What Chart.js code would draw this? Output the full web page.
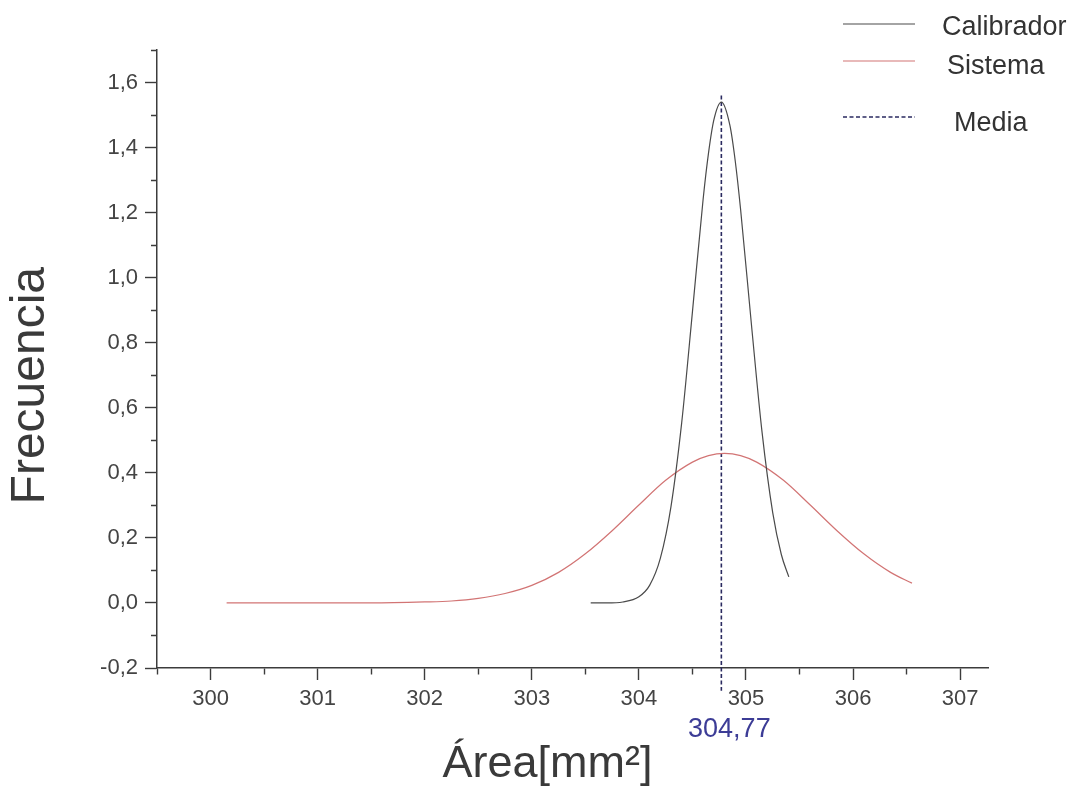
<!DOCTYPE html>
<html>
<head>
<meta charset="utf-8">
<script src="https://cdn.jsdelivr.net/npm/chart.js@4.4.1/dist/chart.umd.min.js"></script>
<style>
  body { margin: 0; background: #ffffff; }
</style>
</head>
<body>
<canvas id="chart" width="1083" height="792"></canvas>
<script>
// Calibrador curve
const calX = [303.55, 303.7, 303.85, 304.0, 304.1, 304.2, 304.3, 304.4, 304.5, 304.6, 304.65, 304.7, 304.77,
  304.85, 304.9, 304.95, 305.05, 305.15, 305.25, 305.33, 305.4];
const calY = [0.000, 0.000, 0.003, 0.019, 0.054, 0.137, 0.297, 0.555, 0.895, 1.242, 1.383, 1.485, 1.540,
  1.468, 1.358, 1.209, 0.859, 0.525, 0.277, 0.149, 0.080];

// Sistema curve
const sisX = [300.15, 301.0, 301.5, 302.0, 302.25, 302.5, 302.75, 303.0, 303.25, 303.5, 303.75, 304.0,
  304.25, 304.5, 304.65, 304.8, 304.95, 305.1, 305.35, 305.6, 305.85, 306.1, 306.35, 306.55];
const sisY = [0.000, 0.000, 0.000, 0.003, 0.006, 0.014, 0.029, 0.054, 0.094, 0.151, 0.222, 0.301,
  0.377, 0.433, 0.453, 0.460, 0.453, 0.433, 0.377, 0.301, 0.222, 0.151, 0.094, 0.061];

// Media (mean) marker
const mediaX = [304.77, 304.77];
const mediaY = [1.56, -0.27];
const mediaLabel = "304,77";

const axisColor = "#3c3c3c";
const textColor = "#444444";
const fontFamily = '"Liberation Sans", Arial, sans-serif';

const toPoints = (xs, ys) => xs.map((x, i) => ({ x: x, y: ys[i] }));
const isMajor = (v, step) => Math.abs(v / step - Math.round(v / step)) < 1e-6;

// legend to the top right and the mean value under the axis
const extrasPlugin = {
  id: "extras",
  afterDraw(chart) {
    const ctx = chart.ctx;
    const rows = [{ y: 24, tx: 942, ty: 35 }, { y: 61, tx: 947, ty: 74 }, { y: 117, tx: 954, ty: 131 }];
    chart.data.datasets.forEach((ds, i) => {
      const r = rows[i];
      ctx.save();
      ctx.strokeStyle = ds.borderColor;
      ctx.lineWidth = ds.borderWidth;
      ctx.setLineDash(ds.borderDash || []);
      ctx.beginPath();
      ctx.moveTo(843, r.y);
      ctx.lineTo(915, r.y);
      ctx.stroke();
      ctx.setLineDash([]);
      ctx.fillStyle = "#333333";
      ctx.font = "27px " + fontFamily;
      ctx.textBaseline = "alphabetic";
      ctx.fillText(ds.label, r.tx, r.ty);
      ctx.restore();
    });

    const px = chart.scales.x.getPixelForValue(mediaX[0]);
    ctx.save();
    ctx.fillStyle = "#3c3c96";
    ctx.font = "27px " + fontFamily;
    ctx.textAlign = "center";
    ctx.textBaseline = "alphabetic";
    ctx.fillText(mediaLabel, px + 8, 737);
    ctx.restore();
  }
};

// major ticks 12px, minor ticks 6px next to the axis
const tickGrid = (step, minorDash) => ({
  drawOnChartArea: false,
  tickLength: 12,
  tickColor: axisColor,
  tickWidth: 1.4,
  tickBorderDash: (c) => (c.tick && !isMajor(c.tick.value, step)) ? minorDash : []
});

new Chart(document.getElementById("chart"), {
  type: "line",
  plugins: [extrasPlugin],
  data: {
    datasets: [
      {
        label: "Calibrador",
        data: toPoints(calX, calY),
        borderColor: "#4a4a4a",
        borderWidth: 1.2,
        pointRadius: 0,
        cubicInterpolationMode: "monotone",
        fill: false
      },
      {
        label: "Sistema",
        data: toPoints(sisX, sisY),
        borderColor: "#d27474",
        borderWidth: 1.2,
        pointRadius: 0,
        cubicInterpolationMode: "monotone",
        fill: false
      },
      {
        label: "Media",
        data: toPoints(mediaX, mediaY),
        borderColor: "#2a2a60",
        borderWidth: 1.6,
        borderDash: [4, 2.5],
        pointRadius: 0,
        clip: false,
        fill: false
      }
    ]
  },
  options: {
    responsive: false,
    animation: false,
    layout: { padding: { left: 0, top: 50, right: 95, bottom: 0 } },
    plugins: {
      legend: { display: false },
      tooltip: { enabled: false }
    },
    scales: {
      x: {
        type: "linear",
        position: "bottom",
        min: 299.5,
        max: 307.26,
        afterFit: (s) => { s.height = 124; },
        border: { display: true, color: axisColor, width: 1.5 },
        grid: tickGrid(1, [6, 100]),
        ticks: {
          stepSize: 0.5,
          includeBounds: false,
          autoSkip: false,
          maxRotation: 0,
          padding: 6,
          color: textColor,
          font: { family: fontFamily, size: 22 },
          callback: (v) => isMajor(v, 1) ? String(Math.round(v)) : ""
        },
        title: {
          display: true,
          text: "Área[mm²]    ",
          color: "#3a3a3a",
          font: { family: fontFamily, size: 45 },
          padding: { top: 0, bottom: 0 }
        }
      },
      y: {
        min: -0.2,
        max: 1.7,
        afterFit: (s) => { s.width = 157; },
        border: { display: true, color: axisColor, width: 1.5 },
        grid: tickGrid(0.2, [0, 6, 6, 100]),
        ticks: {
          stepSize: 0.1,
          includeBounds: false,
          autoSkip: false,
          padding: 7,
          color: textColor,
          font: { family: fontFamily, size: 22 },
          callback: (v) => {
            if (!isMajor(v, 0.2)) return "";
            const n = Math.abs(v) < 1e-9 ? 0 : v;
            return n.toFixed(1).replace(".", ",");
          }
        },
        title: {
          display: true,
          text: "Frecuencia    ",
          color: "#3a3a3a",
          font: { family: fontFamily, size: 48 },
          padding: { top: 2, bottom: 0 }
        }
      }
    }
  }
});
</script>
</body>
</html>
